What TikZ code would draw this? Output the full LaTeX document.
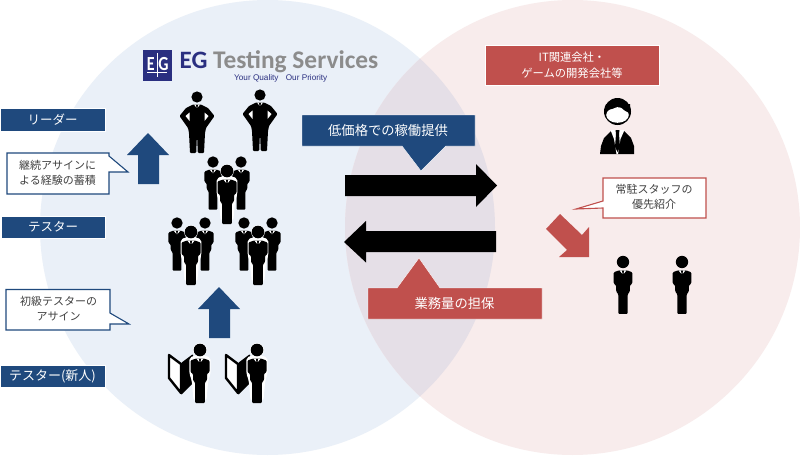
\documentclass[tikz,border=0pt]{standalone}
\usepackage{fontspec}
\setmainfont{Noto Sans CJK JP}
\newfontfamily\logofont{Carlito}
\newfontfamily\sloganfont{Liberation Sans}
\definecolor{navy}{HTML}{1F497D}
\definecolor{brick}{HTML}{C0504D}
\definecolor{inktxt}{HTML}{404040}
\definecolor{logogray}{HTML}{8C8C8C}
\definecolor{logoblue}{HTML}{2A2F80}
\definecolor{circL}{HTML}{EAF0F8}
\definecolor{circR}{HTML}{F8ECEC}
\definecolor{circM}{HTML}{E5DFE7}
\tikzset{
  bluebox/.style={fill=navy,draw=white,line width=.4pt,text=white,font=\fontsize{12.5}{15}\selectfont,inner sep=0pt},
  redbox/.style={fill=brick,draw=white,line width=.4pt,text=white,font=\fontsize{11.3}{16}\selectfont,inner sep=0pt,align=center},
  calltxt/.style={text=inktxt,font=\fontsize{11}{15}\selectfont,align=center,inner sep=0pt},
  suit/.pic={
    \fill (0,0) circle (6.3);
    \fill[rounded corners=1pt] (-4,8.5)--(4,8.5)--(9.5,10.5)--(9.5,22)--(7,24)--(7,30)--(4.8,33)--(4.8,53)--(-4.8,53)--(-4.8,33)--(-7,30)--(-7,24)--(-9.5,22)--(-9.5,10.5)--cycle;
    \fill[white] (-3.6,8.5)--(3.6,8.5)--(0,13)--cycle;
    \fill (-1,8.8)--(1,8.8)--(.7,11)--(1,16)--(0,18)--(-1,16)--(-.7,11)--cycle;
  },
  haloed/.pic={
    \fill[white,rounded corners=2pt] (-6,6)--(6,6)--(11.5,8.5)--(11.5,26)--(9,33)--(7,55)--(-7,55)--(-9,33)--(-11.5,26)--(-11.5,8.5)--cycle;
    \fill[white] (0,0) circle (7.6);
    \pic {suit};
  },
  leader/.pic={
    \fill (0,0) circle (5.6);
    \fill[rounded corners=1pt] (-4,7.5)--(4,7.5)--(11,11)--(17.5,19)--(9,31)--(8,36)--(7,56)--(.8,56)--(0,37)--(-.8,56)--(-7,56)--(-8,36)--(-9,31)--(-17.5,19)--(-11,11)--cycle;
    \fill[white] (-7.5,15.5)--(-11.5,19)--(-7.5,24)--cycle;
    \fill[white] (7.5,15.5)--(11.5,19)--(7.5,24)--cycle;
    \fill[white] (-3,7.5)--(3,7.5)--(0,11.5)--cycle;
    \fill (-.9,7.8)--(.9,7.8)--(.7,10)--(1,16)--(0,18)--(-1,16)--(-.7,10)--cycle;
  },
  novice/.pic={
    \filldraw[fill=white,draw=black,line width=2.4pt,line join=round] (-31,5)--(-19,14)--(-19,43)--(-31,28)--cycle;
    \fill[black,rounded corners=1pt] (-19,13)--(-7,4)--(-6,32)--(-19,45)--cycle;
    \pic[scale=.92] {haloed};
  }
}
\begin{document}
\begin{tikzpicture}[x=1pt,y=-1pt]
\useasboundingbox (0,0) rectangle (800,455);
\fill[white] (0,0) rectangle (800,455);
% circles
\fill[circL] (267.5,227.5) circle (227.5);
\fill[circR] (572.5,227.5) circle (227.5);
\begin{scope}
  \clip (267.5,227.5) circle (227.5);
  \fill[circM] (572.5,227.5) circle (227.5);
\end{scope}
% logo
\fill[logoblue] (143,50) rectangle (171.5,81);
\node[text=white,font=\logofont\bfseries\fontsize{20}{20}\selectfont,inner sep=0pt,xscale=.8] (logoE) at (150.8,64) {E};
\node[text=white,font=\logofont\bfseries\fontsize{20}{20}\selectfont,inner sep=0pt,xscale=.8] (logoG) at (163.5,64) {G};
\draw[white,line width=.8pt] (157,53)--(157,77) (147,72)--(167,72);
\node[anchor=base west,text=logoblue,font=\logofont\bfseries\fontsize{25}{25}\selectfont,inner sep=0pt] (logoEG) at (179.5,68) {EG};
\node[anchor=base west,text=logogray,font=\logofont\bfseries\fontsize{25.4}{26}\selectfont,inner sep=0pt] (logoTS) at (213,68) {Testing Services};
\node[anchor=base west,text=logoblue,font=\sloganfont\fontsize{8.2}{9}\selectfont,inner sep=0pt] (slogan) at (234,80) {Your Quality\hspace{5pt} Our Priority};
% left labels
\node[bluebox,minimum width=105,minimum height=23] (lead) at (52.5,119.5) {リーダー};
\node[bluebox,minimum width=104,minimum height=22.5] (test) at (53,227.2) {テスター};
\node[bluebox,font=\fontsize{13}{15}\selectfont,minimum width=105,minimum height=22] (newb) at (52.5,376) {テスター(新人)};
% callouts
\filldraw[fill=white,draw=navy,line width=1.1pt] (7,153)--(109,153)--(109,156)--(128,172)--(109,172)--(109,194)--(7,194)--cycle;
\node[calltxt] (c1) at (57.5,173) {継続アサインに\\よる経験の蓄積};
\filldraw[fill=white,draw=navy,line width=1.1pt] (6,289.5)--(110,289.5)--(110,313)--(129,324)--(110,324)--(110,330)--(6,330)--cycle;
\node[calltxt] (c2) at (58.5,309) {初級テスターの\\アサイン};
\filldraw[fill=white,draw=brick,line width=1.1pt] (603,178)--(706,178)--(706,218)--(603,218)--(603,208)--(576,209)--(603,201)--cycle;
\node[calltxt] (c3) at (654,197) {常駐スタッフの\\優先紹介};
% blue up arrows
\fill[navy] (148,133)--(169,155)--(159,155)--(159,184)--(138,184)--(138,155)--(127,155)--cycle;
\fill[navy] (219,287)--(240,309)--(230,309)--(230,338)--(209,338)--(209,309)--(198,309)--cycle;
% red arrow
\fill[brick] (546,229)--(560,214)--(582,235)--(589,227)--(589,257)--(559,257)--(567,250)--cycle;
% big arrows
\fill[black] (345,175)--(476,175)--(476,164)--(497,185.5)--(476,207)--(476,196)--(345,196)--cycle;
\fill[black] (496,231)--(366,231)--(366,221)--(344,242)--(366,262.5)--(366,252)--(496,252)--cycle;
% speech boxes
\filldraw[fill=navy,draw=white,line width=.4pt] (302,115)--(475,115)--(475,146)--(446,146)--(421,171)--(402,146)--(302,146)--cycle;
\node[text=white,font=\fontsize{13.3}{15}\selectfont,inner sep=0pt] (lowcost) at (388,130.5) {低価格での稼働提供};
\filldraw[fill=brick,draw=white,line width=.4pt] (368,288)--(397,288)--(419,258)--(440,288)--(542,288)--(542,319)--(368,319)--cycle;
\node[text=white,font=\fontsize{13.3}{15}\selectfont,inner sep=0pt] (volume) at (454.5,303) {業務量の担保};
% client box
\node[redbox,minimum width=174,minimum height=40] (client) at (572,65) {IT関連会社・\\ゲームの開発会社等};
% people
\pic at (197,97) {leader};
\pic at (260,95) {leader};
\foreach \hx/\hy in {227/162,191/223,258/223}{
  \pic[scale=.9] at ({\hx-14},\hy) {suit};
  \pic[scale=.9] at ({\hx+14},\hy) {suit};
  \pic[scale=.9] at (\hx,{\hy+9}) {haloed};
}
\pic at (200,350) {novice};
\pic at (257,350) {novice};
\pic[scale=.98] at (623,262) {suit};
\pic[scale=.98] at (682,262) {suit};
% client person
\fill (600,154)--(601,146)--(604,138)--(612,130)--(623,130)--(631,138)--(634,146)--(634,154)--cycle;
\fill[white] (610.5,130)--(624.5,130)--(620.5,139)--(618,154)--(616.5,154)--(614,139)--cycle;
\fill (615.5,130)--(619.5,130)--(619,134)--(620,147)--(617.5,152)--(615,147)--(616,134)--cycle;
\fill (617.5,111.5) circle (13.5);
\fill[white] (617.5,115) ellipse (11.3 and 7.8);
\fill (605,110)..controls (611,110) and (616,108) .. (619,105)..controls (622,109) and (626,112) .. (630,113)--(630,104)--(606,104)--cycle;
\end{tikzpicture}
\end{document}
